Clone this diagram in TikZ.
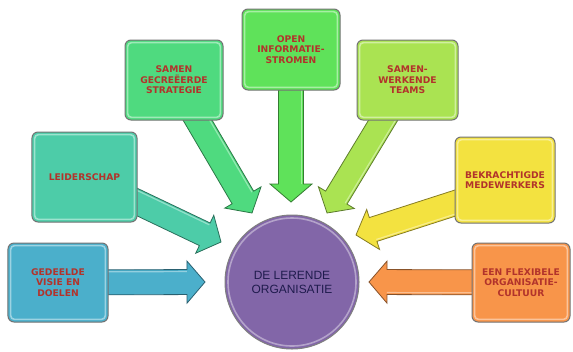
\documentclass[tikz,border=0pt]{standalone}
\usepackage{fontspec}
\usetikzlibrary{calc}
\newfontfamily\boxfont{DejaVu Sans}
\newfontfamily\circfont{Liberation Sans}
\definecolor{cA}{HTML}{4BAFCB}
\definecolor{cB}{HTML}{4DCCA8}
\definecolor{cC}{HTML}{4FDA7F}
\definecolor{cD}{HTML}{5FE25A}
\definecolor{cE}{HTML}{AAE352}
\definecolor{cF}{HTML}{F3E240}
\definecolor{cG}{HTML}{F8954A}
\definecolor{cP}{HTML}{8266A8}
\definecolor{txtred}{HTML}{B2332B}
\definecolor{txtnavy}{HTML}{1F1B4D}
\pgfdeclarelayer{bg}
\pgfsetlayers{bg,main}
\tikzset{
  box/.style={rounded corners=6bp, draw=black!55, line width=1bp, align=center,
    font=\boxfont\bfseries\fontsize{9.2}{10.4}\selectfont, text=txtred, inner sep=2bp,
    path picture={\draw[white, opacity=0.45, line width=1.6bp, rounded corners=4bp]
      ([shift={(2.6bp,2.6bp)}]path picture bounding box.south west) rectangle
      ([shift={(-2.6bp,-2.6bp)}]path picture bounding box.north east);}},
  hub/.style={circle, draw=black!50, line width=1bp, fill=cP, inner sep=0pt,
    minimum size=134bp, align=center, text=txtnavy,
    font=\circfont\fontsize{12}{14}\selectfont,
    path picture={\draw[white, opacity=0.4, line width=1.6bp]
      (path picture bounding box.center) circle (64bp);}},
  arrowline/.style={line width=0.8bp, line join=miter},
}
\newcommand\blockarr[3]{%
  \coordinate (ah) at ($(#2)!18bp!(#1)$);
  \draw[arrowline, draw=#3!55!black, fill=#3]
    ($(#1)!12.5bp!90:(#2)$) -- ($(ah)!12.5bp!-90:(#1)$) -- ($(ah)!21bp!-90:(#1)$) -- (#2)
    -- ($(ah)!21bp!90:(#1)$) -- ($(ah)!12.5bp!90:(#1)$) -- ($(#1)!12.5bp!-90:(#2)$) -- cycle;
  \draw[white, opacity=0.4, line width=1.2bp]
    ($(#1)!10.5bp!90:(#2)$) -- ($(ah)!10.5bp!-90:(#1)$);
}
\begin{document}
\begin{tikzpicture}[x=1bp, y=-1bp]
\useasboundingbox (0,0) rectangle (573,351);

\node[box, fill=cA, minimum width=100bp, minimum height=79bp] (b1) at (58,282.5) {GEDEELDE\\VISIE EN\\DOELEN};
\node[box, fill=cB, minimum width=105bp, minimum height=90bp] (b2) at (84.5,177) {LEIDERSCHAP};
\node[box, fill=cC, minimum width=98bp, minimum height=80bp] (b3) at (174,80) {SAMEN\\GECREËERDE\\STRATEGIE};
\node[box, fill=cD, minimum width=98bp, minimum height=81bp] (b4) at (291,49.5) {OPEN\\INFORMATIE-\\STROMEN};
\node[box, fill=cE, minimum width=101bp, minimum height=80bp] (b5) at (407.5,80) {SAMEN-\\WERKENDE\\TEAMS};
\node[box, fill=cF, minimum width=100bp, minimum height=86bp] (b6) at (505,180) {BEKRACHTIGDE\\MEDEWERKERS};
\node[box, fill=cG, minimum width=98bp, minimum height=79bp] (b7) at (521,282.5) {EEN FLEXIBELE\\ORGANISATIE-\\CULTUUR};
\node[hub] (c) at (292,282) {DE LERENDE\\ORGANISATIE};

\coordinate (t1) at (205,282);
\coordinate (t2) at (221,242);
\coordinate (t3) at (252,213);
\coordinate (t4) at (291,202);
\coordinate (t5) at (327,213);
\coordinate (t6) at (356,235);
\coordinate (t7) at (369,282);
\coordinate (s6) at ($(b6.center)+(0,7)$);

\begin{pgfonlayer}{bg}
\fill[white] (0,0) rectangle (573,351);
\blockarr{b1.center}{t1}{cA}
\blockarr{b2.center}{t2}{cB}
\blockarr{b3.center}{t3}{cC}
\blockarr{b4.center}{t4}{cD}
\blockarr{b5.center}{t5}{cE}
\blockarr{s6}{t6}{cF}
\blockarr{b7.center}{t7}{cG}
\end{pgfonlayer}
\end{tikzpicture}
\end{document}
